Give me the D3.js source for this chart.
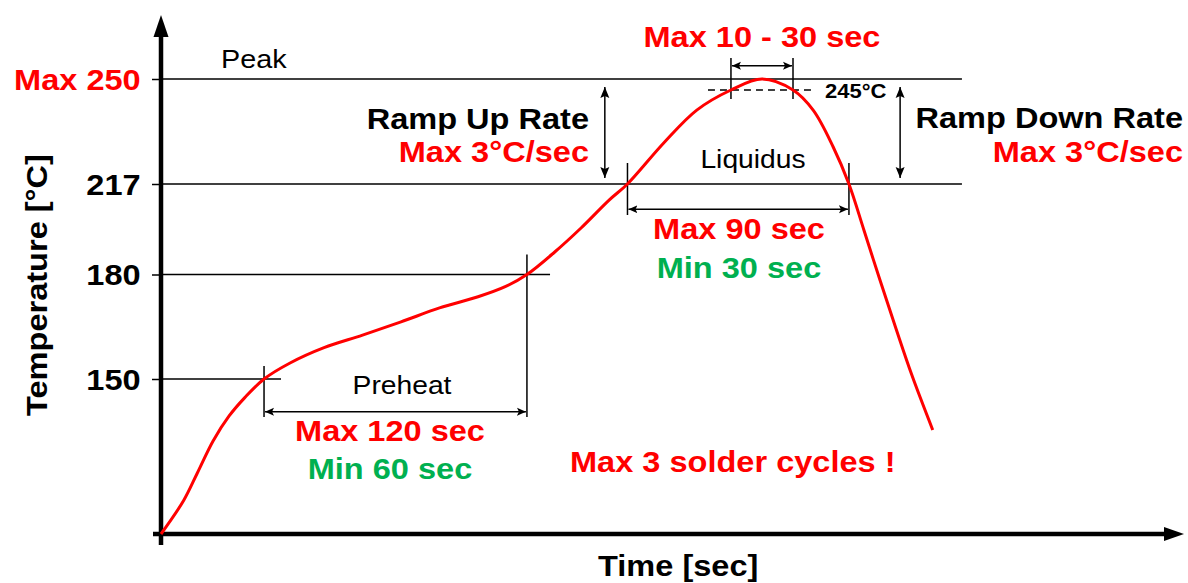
<!DOCTYPE html>
<html lang="en">
<head>
<meta charset="utf-8" />
<script src="https://d3js.org/d3.v7.min.js"></script>
<style>
  body { margin: 0; background: #fff; }
  text { font-family: Arial, "Liberation Sans", sans-serif; }
  .b { font-weight: bold; }
</style>
</head>
<body>
<script>
// reflow profile (schematic time scale)
var profileTime = [0, 10, 16, 23, 30, 37, 45.5, 57, 72, 89, 106, 123, 140, 152, 161.6, 174, 185.5, 198,
                   206, 222, 236.6, 251.7, 265.4, 279.1, 288, 296.8, 303.8, 310.4, 317.5, 324.6, 331.7, 340.8];
var profileTemp = [25, 52, 74, 100, 120, 135, 150, 154.6, 159, 162.6, 166.4, 170.4, 173.6, 176.5, 180, 189.3, 199, 210.5,
                   217, 229.2, 239, 245, 250, 245, 239, 228.1, 217, 198.2, 178.4, 164.4, 150.9, 108.9];

var tickTemps = [250, 217, 180, 150];
var tickLabels = ["Max 250", "217", "180", "150"];
var guideEnd = [353.7, 353.7, 171.8, 53];   // time where each guide stops

var windowStart = [45.5, 206, 251.7];
var windowEnd = [161.6, 303.8, 279.1];

var width = 1188, height = 583;
var red = "#ff0000", green = "#00b050";
var sx = 1.13;  // the source fonts are drawn wide

var x = d3.scaleLinear().domain([0, 450]).range([161, 1180]);
var y = d3.scaleLinear().domain([25, 150, 180, 217, 245, 250]).range([534, 379, 274.5, 184, 90, 79]);

var svg = d3.select("body").append("svg")
    .attr("width", width)
    .attr("height", height);

var defs = svg.append("defs");
defs.append("marker").attr("id", "dim")
    .attr("markerUnits", "userSpaceOnUse")
    .attr("viewBox", "0 -5 10 10")
    .attr("refX", 9).attr("refY", 0)
    .attr("markerWidth", 10).attr("markerHeight", 10)
    .attr("orient", "auto-start-reverse")
    .append("path").attr("d", "M0,-4L9,0L0,4L2,0Z").attr("fill", "#000");
defs.append("marker").attr("id", "ramp")
    .attr("markerUnits", "userSpaceOnUse")
    .attr("viewBox", "0 -6 12 12")
    .attr("refX", 11).attr("refY", 0)
    .attr("markerWidth", 12).attr("markerHeight", 12)
    .attr("orient", "auto-start-reverse")
    .append("path").attr("d", "M0,-4.5L11,0L0,4.5L2,0Z").attr("fill", "#000");

function label(str, px, py, o) {
    var t = svg.append("text")
        .attr("transform", "translate(" + px + "," + py + ")" + (o.rot ? " rotate(" + o.rot + ")" : "") + " scale(" + sx + ",1)")
        .attr("text-anchor", o.anchor || "start")
        .style("font-size", (o.size || 28.8) + "px")
        .attr("fill", o.color || "#000")
        .text(str);
    if (o.bold !== false) t.attr("class", "b");
    return t;
}

// guide lines
svg.selectAll("line.guide")
    .data(tickTemps)
    .enter().append("line")
    .attr("class", "guide")
    .attr("x1", x(0)).attr("x2", function (d, i) { return x(guideEnd[i]); })
    .attr("y1", function (d) { return y(d); }).attr("y2", function (d) { return y(d); })
    .attr("stroke", "#000").attr("stroke-width", 1.5);

// y ticks + labels
var yAxis = svg.append("g")
    .attr("transform", "translate(" + x(0) + ",0)")
    .call(d3.axisLeft(y).tickValues(tickTemps).tickSizeInner(9).tickSizeOuter(0).tickPadding(9)
        .tickFormat(function (d, i) { return tickLabels[i]; }));
yAxis.select(".domain").remove();
yAxis.selectAll(".tick line").attr("stroke", "#000").attr("stroke-width", 1.5);
yAxis.selectAll(".tick text")
    .attr("class", "b")
    .attr("dy", "0.35em")
    .attr("transform", "scale(" + sx + ",1)")
    .style("font-size", "28.8px")
    .style("font-family", "Arial, 'Liberation Sans', sans-serif")
    .attr("fill", function (d) { return d === 250 ? red : "#000"; });

// axes
svg.append("line").attr("x1", x(0)).attr("x2", x(0)).attr("y1", 545).attr("y2", 34)
    .attr("stroke", "#000").attr("stroke-width", 4.5);
svg.append("path").attr("d", "M" + x(0) + ",15L" + (x(0) - 7.5) + ",37L" + (x(0) + 7.5) + ",37Z").attr("fill", "#000");
svg.append("line").attr("x1", 153).attr("x2", 1166).attr("y1", y(25)).attr("y2", y(25))
    .attr("stroke", "#000").attr("stroke-width", 4.5);
svg.append("path").attr("d", "M1184," + y(25) + "L1164," + (y(25) - 7) + "L1164," + (y(25) + 7) + "Z").attr("fill", "#000");

// 245 dashed
svg.append("line")
    .attr("x1", x(windowStart[2]) - 23).attr("x2", x(windowEnd[2]) + 20)
    .attr("y1", y(245)).attr("y2", y(245))
    .attr("stroke", "#000").attr("stroke-width", 1.5).attr("stroke-dasharray", "7,5");

// time windows: verticals + dimension arrows
var winTop = [[y(150) - 13, y(180) - 20], [y(217) - 21, y(217) - 21], [58, 58]];
var winBottom = [417, 215, 99];
var winArrow = [411.7, 209.3, 65.7];
windowStart.forEach(function (s, i) {
    [s, windowEnd[i]].forEach(function (t, j) {
        svg.append("line").attr("x1", x(t)).attr("x2", x(t))
            .attr("y1", winTop[i][j]).attr("y2", winBottom[i])
            .attr("stroke", "#000").attr("stroke-width", 1.5);
    });
    svg.append("line").attr("x1", x(s) + 1).attr("x2", x(windowEnd[i]) - 1)
        .attr("y1", winArrow[i]).attr("y2", winArrow[i])
        .attr("stroke", "#000").attr("stroke-width", 1.5)
        .attr("marker-start", "url(#dim)").attr("marker-end", "url(#dim)");
});

// ramp arrows
[196, 326.4].forEach(function (t) {
    svg.append("line").attr("x1", x(t)).attr("x2", x(t))
        .attr("y1", y(250) + 8).attr("y2", y(217) - 6)
        .attr("stroke", "#000").attr("stroke-width", 1.5)
        .attr("marker-start", "url(#ramp)").attr("marker-end", "url(#ramp)");
});

// profile
var pts = profileTime.map(function (t, i) { return [t, profileTemp[i]]; });
svg.append("path")
    .datum(pts)
    .attr("fill", "none")
    .attr("stroke", red)
    .attr("stroke-width", 3)
    .attr("d", d3.line()
        .x(function (d) { return x(d[0]); })
        .y(function (d) { return y(d[1]); })
        .curve(d3.curveCatmullRom.alpha(0.5)));

// labels
label("Peak", 221, 68, { bold: false, size: 25.5 });
label("Ramp Up Rate", 589, 129, { anchor: "end" });
label("Max 3°C/sec", 589, 162, { anchor: "end", color: red });
label("Ramp Down Rate", 1183, 128, { anchor: "end" });
label("Max 3°C/sec", 1183, 161.5, { anchor: "end", color: red });
label("Max 10 - 30 sec", x((windowStart[2] + windowEnd[2]) / 2), 47, { anchor: "middle", color: red });
label("245°C", 825, 97.5, { size: 19.5 });
label("Liquidus", 753, 168, { anchor: "middle", bold: false, size: 25 });
label("Max 90 sec", 739, 239, { anchor: "middle", color: red });
label("Min 30 sec", 739, 278, { anchor: "middle", color: green });
label("Preheat", 402, 394, { anchor: "middle", bold: false, size: 25 });
label("Max 120 sec", 390, 441, { anchor: "middle", color: red });
label("Min 60 sec", 390, 479, { anchor: "middle", color: green });
label("Max 3 solder cycles !", 570, 472, { color: red });
label("Time [sec]", 598, 576, {});
label("Temperature [°C]", 47, 285, { anchor: "middle", rot: -90 });
</script>
</body>
</html>
